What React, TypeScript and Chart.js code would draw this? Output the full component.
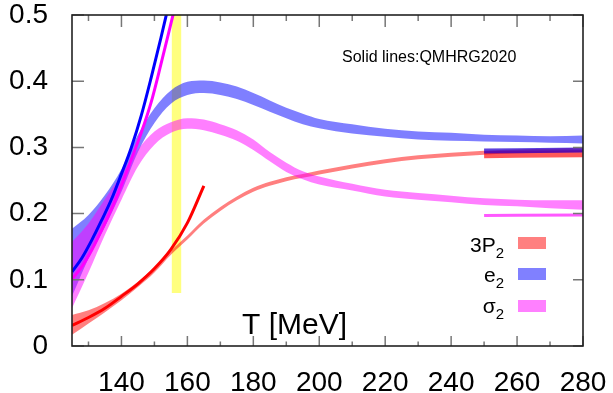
import React, { useEffect, useRef } from "react";
import { Chart, registerables } from "chart.js";

Chart.register(...registerables);

// ---------- data ----------
const xTickValues = [140, 160, 180, 200, 220, 240, 260, 280];
const xTickLabels = ["140", "160", "180", "200", "220", "240", "260", "280"];
const xMinorTicks = [130, 150, 170, 190, 210, 230, 250, 270];
const yTickValues = [0, 0.1, 0.2, 0.3, 0.4, 0.5];
const yTickLabels = ["0", "0.1", "0.2", "0.3", "0.4", "0.5"];

// lattice bands
const bandT = [125, 130, 135, 140, 145, 150, 155, 160, 165, 170, 175, 180, 185, 190, 195, 200, 210, 220, 230, 240, 250, 260, 270, 280];
const e2Lower = [0.075, 0.132, 0.18, 0.233, 0.293, 0.337, 0.366, 0.379, 0.382, 0.379, 0.373, 0.364, 0.354, 0.344, 0.335, 0.329, 0.321, 0.316, 0.312, 0.31, 0.309, 0.308, 0.307, 0.306];
const e2Upper = [0.177, 0.198, 0.228, 0.267, 0.319, 0.359, 0.386, 0.399, 0.401, 0.398, 0.392, 0.382, 0.371, 0.36, 0.351, 0.343, 0.335, 0.328, 0.324, 0.322, 0.319, 0.318, 0.317, 0.318];
const s2Lower = [0.057, 0.111, 0.168, 0.221, 0.271, 0.304, 0.322, 0.328, 0.326, 0.319, 0.31, 0.296, 0.279, 0.263, 0.252, 0.244, 0.235, 0.226, 0.221, 0.217, 0.213, 0.211, 0.208, 0.206];
const s2Upper = [0.157, 0.185, 0.222, 0.259, 0.297, 0.324, 0.338, 0.344, 0.342, 0.335, 0.326, 0.312, 0.293, 0.277, 0.264, 0.256, 0.245, 0.236, 0.231, 0.227, 0.223, 0.221, 0.22, 0.22];
const p2Lower = [0.017, 0.034, 0.051, 0.069, 0.089, 0.111, 0.138, 0.161, 0.185, 0.204, 0.22, 0.233, 0.242, 0.249, 0.254, 0.259, 0.268, 0.276, 0.282, 0.286, 0.289, 0.291, 0.292, 0.293];
const p2Upper = [0.047, 0.054, 0.065, 0.079, 0.097, 0.119, 0.144, 0.167, 0.191, 0.21, 0.226, 0.239, 0.248, 0.255, 0.26, 0.265, 0.274, 0.282, 0.288, 0.292, 0.295, 0.297, 0.298, 0.299];

// QMHRG2020 solid lines
const e2LineT = [125, 128, 131, 134, 137, 140, 143, 146, 149, 152, 155];
const e2Line = [0.112, 0.133, 0.16, 0.19, 0.222, 0.26, 0.3, 0.348, 0.405, 0.466, 0.53];
const s2LineT = [125, 128, 131, 134, 137, 140, 143, 146, 149, 152, 155, 158];
const s2Line = [0.101, 0.12, 0.145, 0.175, 0.207, 0.243, 0.282, 0.322, 0.368, 0.426, 0.487, 0.548];
const p2LineT = [125, 130, 135, 140, 145, 150, 155, 160, 165];
const p2Line = [0.031, 0.043, 0.057, 0.075, 0.094, 0.117, 0.146, 0.186, 0.242];

// high-temperature limits
const limitT = [250, 280];
const p2Limit = [0.289, 0.2905];
const e2Limit = [0.2945, 0.296];
const s2Limit = [0.197, 0.198];

// Tc band
const tcT = [155.2, 158.2];
const tcLow = [0.08, 0.08];
const tcHigh = [0.5, 0.5];

const legendLabels = ["3P", "e", "σ"];
const legendSubs = ["2", "2", "2"];
const legendColors = ["rgb(255,128,128)", "rgb(128,128,255)", "rgb(255,128,255)"];

const FONT = "'Liberation Sans', Arial, Helvetica, sans-serif";

const pts = (xs: number[], ys: number[]) => xs.map((x, i) => ({ x, y: ys[i] }));

const base = {
  pointRadius: 0,
  borderWidth: 0,
  borderColor: "transparent",
  fill: false,
  cubicInterpolationMode: "monotone" as const,
};

const frameTicksPlugin = {
  id: "frameTicks",
  afterDatasetsDraw(chart: any) {
    const ctx = chart.ctx;
    const { left, right, top, bottom } = chart.chartArea;
    const xs = chart.scales.x;
    const ys = chart.scales.y;
    ctx.save();
    ctx.strokeStyle = "#777";
    ctx.lineWidth = 1.5;
    ctx.beginPath();
    xTickValues.forEach((v) => {
      const px = xs.getPixelForValue(v);
      ctx.moveTo(px, bottom);
      ctx.lineTo(px, bottom - 10);
      ctx.moveTo(px, top);
      ctx.lineTo(px, top + 12);
    });
    xMinorTicks.forEach((v) => {
      const px = xs.getPixelForValue(v);
      ctx.moveTo(px, bottom);
      ctx.lineTo(px, bottom - 4.5);
      ctx.moveTo(px, top);
      ctx.lineTo(px, top + 6);
    });
    yTickValues.forEach((v) => {
      const py = ys.getPixelForValue(v);
      ctx.moveTo(left, py);
      ctx.lineTo(left + 12, py);
      ctx.moveTo(right, py);
      ctx.lineTo(right - 10, py);
    });
    ctx.stroke();
    ctx.strokeStyle = "#222";
    ctx.lineWidth = 1.6;
    ctx.strokeRect(left, top, right - left, bottom - top);
    ctx.restore();
  },
  afterDraw(chart: any) {
    const ctx = chart.ctx;
    ctx.save();
    ctx.fillStyle = "#000";
    ctx.textBaseline = "alphabetic";
    ctx.textAlign = "left";
    ctx.font = `30px ${FONT}`;
    ctx.fillText("T [MeV]", 242, 334);
    ctx.font = `16px ${FONT}`;
    ctx.fillText("Solid lines:QMHRG2020", 342, 62);
    // legend
    const baselines = [252, 282, 313];
    const swTop = [237, 268, 300];
    legendLabels.forEach((lab, i) => {
      ctx.textAlign = "right";
      ctx.font = `15px ${FONT}`;
      const subW = ctx.measureText(legendSubs[i]).width;
      ctx.fillText(legendSubs[i], 504, baselines[i] + 6);
      ctx.font = `21px ${FONT}`;
      ctx.fillText(lab, 504 - subW, baselines[i]);
      ctx.fillStyle = legendColors[i];
      ctx.fillRect(518, swTop[i], 28, 12);
      ctx.fillStyle = "#000";
    });
    ctx.restore();
  },
};

export default function App() {
  const ref = useRef<HTMLCanvasElement | null>(null);
  useEffect(() => {
    if (!ref.current) return;
    const chart = new Chart(ref.current, {
      type: "line",
      data: {
        datasets: [
          { ...base, data: pts(tcT, tcLow), order: 20, cubicInterpolationMode: "default" },
          { ...base, data: pts(tcT, tcHigh), order: 20, fill: "-1", backgroundColor: "rgba(255,255,0,0.5)", cubicInterpolationMode: "default" },
          { ...base, data: pts(bandT, p2Lower), order: 15 },
          { ...base, data: pts(bandT, p2Upper), order: 15, fill: "-1", backgroundColor: "rgba(255,0,0,0.5)" },
          { ...base, data: pts(bandT, e2Lower), order: 14 },
          { ...base, data: pts(bandT, e2Upper), order: 14, fill: "-1", backgroundColor: "rgba(0,0,255,0.5)" },
          { ...base, data: pts(bandT, s2Lower), order: 13 },
          { ...base, data: pts(bandT, s2Upper), order: 13, fill: "-1", backgroundColor: "rgba(255,0,255,0.5)" },
          { ...base, data: pts(limitT, p2Limit), order: 7, borderWidth: 7, borderColor: "rgba(255,0,0,0.65)", borderCapStyle: "butt" },
          { ...base, data: pts(limitT, e2Limit), order: 6, borderWidth: 5, borderColor: "rgba(40,0,210,0.75)", borderCapStyle: "butt" },
          { ...base, data: pts(limitT, s2Limit), order: 6, borderWidth: 3, borderColor: "rgba(255,0,255,0.65)", borderCapStyle: "butt" },
          { ...base, data: pts(p2LineT, p2Line), order: 1, borderWidth: 3, borderColor: "#ff0000" },
          { ...base, data: pts(e2LineT, e2Line), order: 2, borderWidth: 3, borderColor: "#0000ff", clip: 0 },
          { ...base, data: pts(s2LineT, s2Line), order: 2, borderWidth: 3, borderColor: "#ff00ff", clip: 0 },
        ] as any,
      },
      options: {
        responsive: false,
        animation: false,
        events: [],
        layout: { padding: { top: 15, right: 30, left: 0, bottom: 0 } },
        plugins: { legend: { display: false }, tooltip: { enabled: false } },
        scales: {
          x: {
            type: "linear",
            min: 125,
            max: 280,
            grid: { display: false },
            border: { display: false },
            afterFit(scale: any) {
              scale.height = 47;
              scale.paddingLeft = 0;
              scale.paddingRight = 0;
              scale.paddingTop = 0;
              scale.paddingBottom = 0;
            },
            afterBuildTicks(scale: any) {
              scale.ticks = xTickValues.map((v) => ({ value: v }));
            },
            ticks: {
              autoSkip: false,
              maxRotation: 0,
              padding: 12,
              color: "#000",
              font: { family: FONT, size: 28 },
              callback: (_v: any, i: number) => xTickLabels[i],
            },
          },
          y: {
            type: "linear",
            min: 0,
            max: 0.5,
            grid: { display: false },
            border: { display: false },
            afterFit(scale: any) {
              scale.width = 72;
              scale.paddingTop = 0;
              scale.paddingBottom = 0;
              scale.paddingLeft = 0;
              scale.paddingRight = 0;
            },
            afterBuildTicks(scale: any) {
              scale.ticks = yTickValues.map((v) => ({ value: v }));
            },
            ticks: {
              autoSkip: false,
              padding: 16,
              color: "#000",
              font: { family: FONT, size: 28 },
              callback: (_v: any, i: number) => yTickLabels[i],
            },
          },
        },
      },
      plugins: [frameTicksPlugin],
    });
    return () => chart.destroy();
  }, []);
  return (
    <div style={{ position: "absolute", left: 0, top: 0, width: 613, height: 393, background: "#fff" }}>
      <canvas ref={ref} width={613} height={393} style={{ display: "block" }} />
    </div>
  );
}
